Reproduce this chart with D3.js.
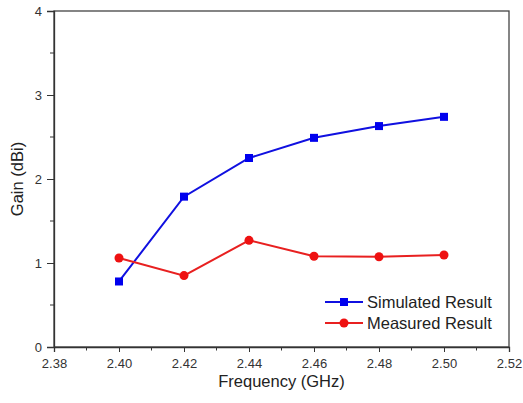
<!DOCTYPE html>
<html>
<head>
<meta charset="utf-8">
<script src="https://cdn.jsdelivr.net/npm/d3@7"></script>
<style>
  body { margin: 0; background: #fff; }
  svg { display: block; font-family: Arial, "Liberation Sans", sans-serif; }
</style>
</head>
<body>
<div id="chart"></div>
<script>
// data
const freqs = [2.40, 2.42, 2.44, 2.46, 2.48, 2.50];
const simulated = [0.78, 1.79, 2.25, 2.49, 2.63, 2.74];
const measured = [1.06, 0.85, 1.27, 1.08, 1.075, 1.095];
const xTicks = [2.38, 2.40, 2.42, 2.44, 2.46, 2.48, 2.50, 2.52];
const yTicks = [0, 1, 2, 3, 4];
const seriesNames = ["Simulated Result", "Measured Result"];

const width = 523, height = 403;
const margin = { top: 11, right: 14, bottom: 56, left: 54 };

const svg = d3.select("#chart").append("svg")
  .attr("width", width)
  .attr("height", height);

const x = d3.scaleLinear().domain([2.38, 2.52]).range([margin.left, width - margin.right]);
const y = d3.scaleLinear().domain([0, 4]).range([height - margin.bottom, margin.top]);

const axisColor = "#333";

// frame
svg.append("rect")
  .attr("x", x(2.38)).attr("y", y(4))
  .attr("width", x(2.52) - x(2.38)).attr("height", y(0) - y(4))
  .attr("fill", "none").attr("stroke", "#444").attr("stroke-width", 1.3);

// x axis
const xAxis = svg.append("g")
  .attr("transform", `translate(0,${y(0)})`)
  .call(d3.axisBottom(x).tickValues(xTicks).tickFormat(d3.format(".2f")).tickSizeOuter(0).tickSize(5).tickPadding(7));
xAxis.append("g").selectAll("line")
  .data(d3.range(2.39, 2.52, 0.02))
  .join("line")
  .attr("x1", d => x(d)).attr("x2", d => x(d))
  .attr("y1", 0).attr("y2", 3.5)
  .attr("stroke", axisColor);

// y axis
const yAxis = svg.append("g")
  .attr("transform", `translate(${x(2.38)},0)`)
  .call(d3.axisLeft(y).tickValues(yTicks).tickFormat(d3.format("d")).tickSizeOuter(0).tickSize(7).tickPadding(5));
yAxis.append("g").selectAll("line")
  .data([0.5, 1.5, 2.5, 3.5])
  .join("line")
  .attr("x1", 0).attr("x2", -4)
  .attr("y1", d => y(d)).attr("y2", d => y(d))
  .attr("stroke", axisColor);

[xAxis, yAxis].forEach(g => {
  g.select(".domain").attr("stroke", axisColor).attr("stroke-width", 1.3);
  g.selectAll(".tick line").attr("stroke", axisColor);
  g.selectAll("text").attr("font-size", 13).attr("fill", "#333").attr("font-family", "Arial, 'Liberation Sans', sans-serif");
});

// axis titles
svg.append("text")
  .attr("x", (x(2.38) + x(2.52)) / 2).attr("y", 387)
  .attr("text-anchor", "middle")
  .attr("font-size", 16.5).attr("fill", "#222")
  .text("Frequency (GHz)");

svg.append("text")
  .attr("transform", `translate(23,${(y(0) + y(4)) / 2}) rotate(-90)`)
  .attr("text-anchor", "middle")
  .attr("font-size", 16.5).attr("fill", "#222")
  .text("Gain (dBi)");

// lines
const line = d3.line().x((d, i) => x(freqs[i])).y(d => y(d));

svg.append("path").datum(simulated)
  .attr("d", line).attr("fill", "none").attr("stroke", "#1010e0").attr("stroke-width", 2);
svg.append("g").selectAll("rect")
  .data(simulated)
  .join("rect")
  .attr("x", (d, i) => x(freqs[i]) - 4).attr("y", d => y(d) - 4)
  .attr("width", 8).attr("height", 8)
  .attr("fill", "#0000ee");

svg.append("path").datum(measured)
  .attr("d", line).attr("fill", "none").attr("stroke", "#e82020").attr("stroke-width", 2);
svg.append("g").selectAll("circle")
  .data(measured)
  .join("circle")
  .attr("cx", (d, i) => x(freqs[i])).attr("cy", d => y(d))
  .attr("r", 4.5)
  .attr("fill", "#ee1111");

// legend
const legend = svg.append("g").attr("transform", "translate(325,302)");
const colors = ["#1010e0", "#e82020"];
seriesNames.forEach((name, i) => {
  const row = legend.append("g").attr("transform", `translate(0,${i * 21})`);
  row.append("line").attr("x1", 0).attr("x2", 38).attr("y1", 0).attr("y2", 0)
    .attr("stroke", colors[i]).attr("stroke-width", 2);
  if (i === 0) {
    row.append("rect").attr("x", 15).attr("y", -4).attr("width", 8).attr("height", 8).attr("fill", "#0000ee");
  } else {
    row.append("circle").attr("cx", 19).attr("cy", 0).attr("r", 4.5).attr("fill", "#ee1111");
  }
  row.append("text").attr("x", 42).attr("y", 6)
    .attr("font-size", 16.5).attr("fill", "#222")
    .text(name);
});
</script>
</body>
</html>
